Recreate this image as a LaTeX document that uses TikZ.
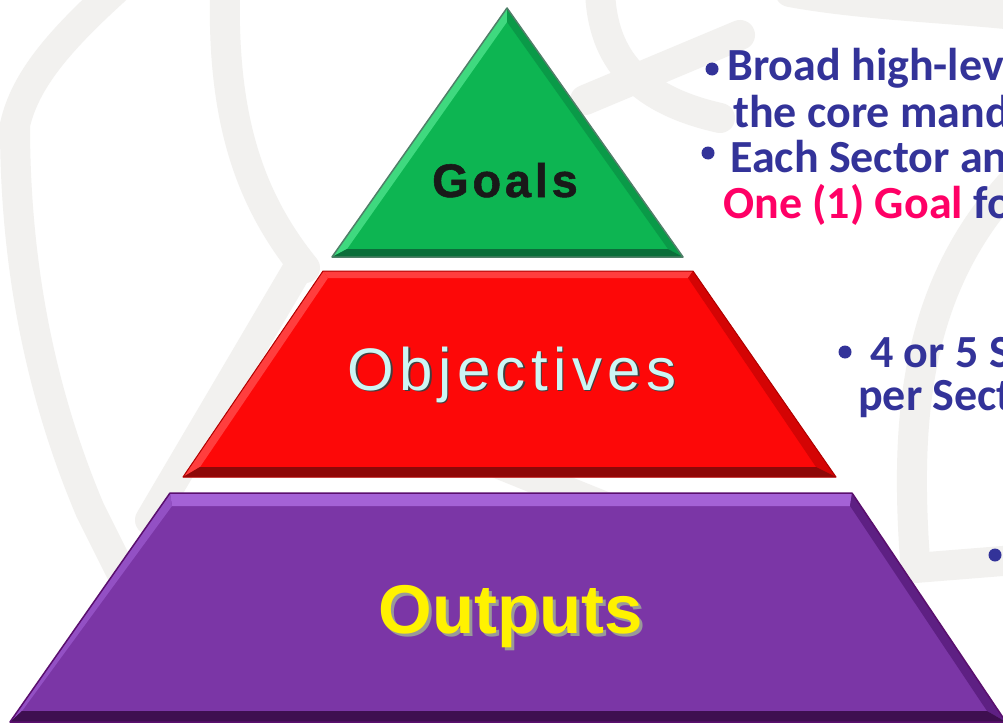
\documentclass[tikz,border=0pt]{standalone}
\usepackage{fontspec}
\setmainfont{Liberation Sans}
\newfontfamily\calib{Carlito}
\newfontfamily\goalsf[LetterSpace=8,FakeBold=1.2]{Liberation Sans Bold}
\newfontfamily\objf[LetterSpace=9]{Liberation Sans}
\definecolor{band}{HTML}{F2F1EF}
\definecolor{gmain}{HTML}{0DB552}
\definecolor{glight}{HTML}{3FD97F}
\definecolor{gdark}{HTML}{0A9A48}
\definecolor{gbot}{HTML}{0B6E3A}
\definecolor{gline}{HTML}{4F7F68}
\definecolor{rmain}{HTML}{FD0808}
\definecolor{rlight}{HTML}{FF3E3E}
\definecolor{rdark}{HTML}{D40404}
\definecolor{rbot}{HTML}{8E0808}
\definecolor{rline}{HTML}{B00000}
\definecolor{pmain}{HTML}{7B36A6}
\definecolor{plight}{HTML}{A462D6}
\definecolor{pleft}{HTML}{9350C4}
\definecolor{pdark}{HTML}{5E2083}
\definecolor{pbot}{HTML}{3E0F50}
\definecolor{pline}{HTML}{5A0F6E}
\definecolor{navy}{HTML}{333399}
\definecolor{hot}{HTML}{FF0066}
\definecolor{cyanish}{HTML}{CCF6F4}
\tikzset{
  bandline/.style={draw=band, line width=30pt, line cap=round},
  rtext/.style={anchor=base west, inner sep=0pt, text=navy, font=\calib\bfseries\fontsize{46}{52}\selectfont},
  bul/.style={circle, fill=navy, inner sep=0pt, minimum size=13pt},
  lbl/.style={anchor=base, inner sep=0pt}
}
\begin{document}
\begin{tikzpicture}[x=1pt,y=-1pt]
\useasboundingbox (0,0) rectangle (1003,725);
\clip (0,0) rectangle (1003,725);
\fill[white] (0,0) rectangle (1003,725);
% background globe bands
\draw[bandline] (115,-10) .. controls (60,40) and (25,80) .. (15,125) .. controls (15,250) and (35,380) .. (90,510) -- (130,590);
\draw[bandline] (225,-10) .. controls (222,120) and (250,200) .. (305,268);
\draw[bandline] (300,265) -- (150,520);
\draw[bandline] (600,-10) .. controls (602,60) and (640,100) .. (720,118);
\draw[bandline] (585,100) -- (740,35);
\draw[bandline] (790,-8) .. controls (860,5) and (950,8) .. (1015,15);
\draw[bandline] (915,560) .. controls (905,420) and (915,290) .. (1010,185);
\draw[bandline] (915,568) -- (1015,560);
\draw[bandline] (440,440) -- (650,525);
% green triangle
\coordinate (gA) at (507,8); \coordinate (gB) at (332,257); \coordinate (gC) at (683,257);
\coordinate (gAi) at (507,22); \coordinate (gBi) at (347,249); \coordinate (gCi) at (668,249);
\fill[gmain] (gA)--(gB)--(gC)--cycle;
\fill[glight] (gA)--(gB)--(gBi)--(gAi)--cycle;
\fill[gdark] (gA)--(gC)--(gCi)--(gAi)--cycle;
\fill[gbot] (gB)--(gC)--(gCi)--(gBi)--cycle;
\draw[gline, line width=1.5pt, line join=round] (gA)--(gB)--(gC)--cycle;
% red trapezoid
\coordinate (rTL) at (323,271); \coordinate (rTR) at (693,271); \coordinate (rBR) at (836,477); \coordinate (rBL) at (183,477);
\coordinate (rTLi) at (328,278); \coordinate (rTRi) at (688,278); \coordinate (rBRi) at (816,467); \coordinate (rBLi) at (200,467);
\fill[rmain] (rTL)--(rTR)--(rBR)--(rBL)--cycle;
\fill[rlight] (rTL)--(rTR)--(rTRi)--(rTLi)--cycle;
\fill[rlight] (rTL)--(rBL)--(rBLi)--(rTLi)--cycle;
\fill[rdark] (rTR)--(rBR)--(rBRi)--(rTRi)--cycle;
\fill[rbot] (rBL)--(rBR)--(rBRi)--(rBLi)--cycle;
\draw[rline, line width=1pt, line join=round] (rTL)--(rTR)--(rBR)--(rBL)--cycle;
% purple trapezoid
\coordinate (pTL) at (170,493); \coordinate (pTR) at (852,493); \coordinate (pBR) at (1006,722); \coordinate (pBL) at (10,722);
\coordinate (pTLi) at (172,506); \coordinate (pTRi) at (850,506); \coordinate (pBRi) at (987,711); \coordinate (pBLi) at (22,711);
\fill[pmain] (pTL)--(pTR)--(pBR)--(pBL)--cycle;
\fill[plight] (pTL)--(pTR)--(pTRi)--(pTLi)--cycle;
\fill[pleft] (pTL)--(pBL)--(pBLi)--(pTLi)--cycle;
\fill[pdark] (pTR)--(pBR)--(pBRi)--(pTRi)--cycle;
\fill[pbot] (pBL)--(pBR)--(pBRi)--(pBLi)--cycle;
\draw[pline, line width=1.5pt, line join=round] (pTL)--(pTR)--(pBR)--(pBL)--cycle;
% labels
\node[lbl, text=black!90, font=\goalsf\fontsize{47}{47}\selectfont] (goals) at (505,197) {Goals};
\node[lbl, text=black!75, font=\objf\fontsize{60}{60}\selectfont] (objsh) at (513.5,391.5) {Objectives};
\node[lbl, text=cyanish, font=\objf\fontsize{60}{60}\selectfont] (obj) at (512,390) {Objectives};
\node[lbl, text=black!40, font=\bfseries\fontsize{69}{69}\selectfont] (outsh) at (514,636) {Outputs};
\node[lbl, text=yellow, font=\bfseries\fontsize{69}{69}\selectfont] (out) at (511,633) {Outputs};
% right texts
\node[bul] (b1) at (712,69) {};
\node[rtext] (t1) at (727,80) {Broad high-lev};
\node[rtext] (t2) at (733,127) {the core mand};
\node[bul] (b2) at (708,153) {};
\node[rtext] (t3) at (730,172) {Each Sector an};
\node[rtext] (t4) at (723,218) {\textcolor{hot}{One (1) Goal} fo};
\node[bul] (b3) at (845,352) {};
\node[rtext] (t5) at (870,367) {4 or 5 S};
\node[rtext] (t6) at (858,410) {per Sect};
\node[bul] (b4) at (995,555) {};
\end{tikzpicture}
\end{document}
